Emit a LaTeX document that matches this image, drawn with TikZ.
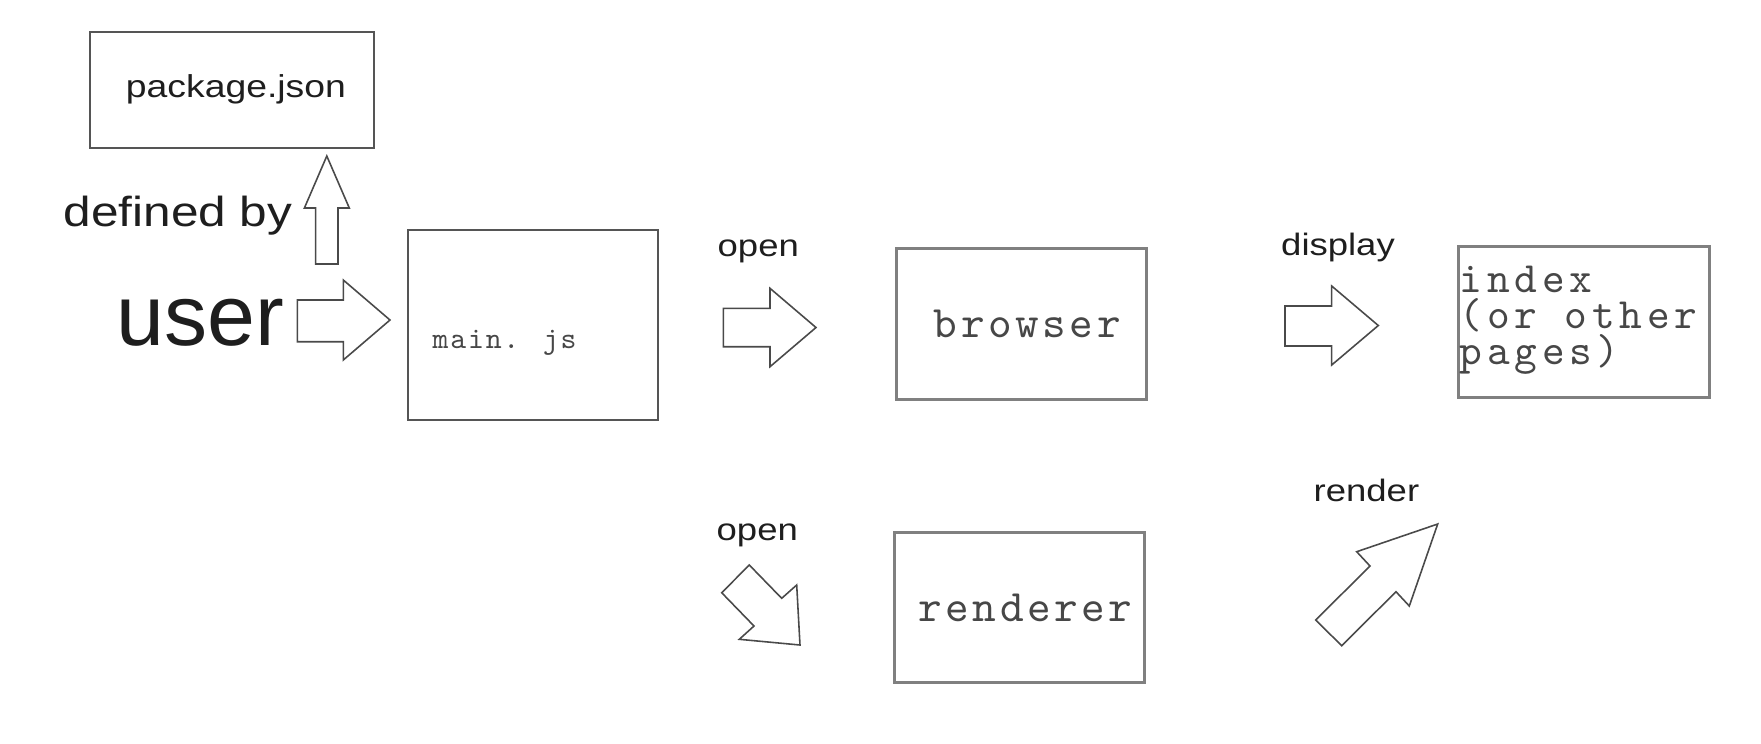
\documentclass[tikz,border=0pt]{standalone}
\usepackage{fontspec}
\newfontfamily\labfont{Liberation Sans}
\newfontfamily\spmono[LetterSpace=8]{lmmono10-regular.otf}
\newfontfamily\spmonowide[LetterSpace=11]{lmmono10-regular.otf}
\newfontfamily\spmonosmall[LetterSpace=6]{lmmono10-regular.otf}
\newcommand{\wlab}[1]{\scalebox{1.18}[1]{#1}}
\definecolor{labelcol}{HTML}{1E1E1E}
\definecolor{monocol}{HTML}{474747}
\definecolor{boxdark}{HTML}{555555}
\definecolor{boxgrey}{HTML}{808080}
\definecolor{arrowgrey}{HTML}{4A4A4A}
\tikzset{
  darkbox/.style={draw=boxdark, line width=0.57pt, inner sep=0pt},
  greybox/.style={draw=boxgrey, line width=0.85pt, inner sep=0pt},
  blockarrow/.style={draw=arrowgrey, line width=0.45pt, line join=miter, fill=white},
  sanslabel/.style={inner sep=0pt, text=labelcol, font=\labfont\fontsize{8.8}{10}\selectfont},
  monotext/.style={inner sep=0pt, text=monocol},
  bigmono/.style={font={\spmono\fontsize{12.8}{15}\selectfont}, text=monocol},
}
\begin{document}
\lineskiplimit=-30pt
\begin{tikzpicture}[x=0.1mm, y=-0.1mm]
\useasboundingbox (0,0) rectangle (1761,743);
\fill[white] (0,0) rectangle (1761,743);

% boxes
\node[darkbox, minimum width=28.42mm, minimum height=11.6mm, text=labelcol,
      font=\labfont\fontsize{9}{10}\selectfont] (pkg) at (231.9,89.5) {\hspace*{0.8mm}\wlab{package.json}};
\node[darkbox, minimum width=25.02mm, minimum height=19mm] (main) at (533.1,325) {};
\node[greybox, minimum width=25.07mm, minimum height=15.07mm, bigmono] (browser) at (1021.35,323.65) {\hspace*{1.2mm}browser};
\node[greybox, minimum width=25.09mm, minimum height=15.15mm] (index) at (1583.95,321.75) {};
\node[greybox, minimum width=25mm, minimum height=15.08mm, bigmono] (renderer) at (1019.5,607.4) {\hspace*{1.2mm}renderer};

% texts
\node[monotext, anchor=base west, font={\spmonosmall\fontsize{8.6}{11}\selectfont}] (mainlbl) at (432,348.3) {main. js};
\node[monotext, anchor=north west, align=left, font={\spmonowide\fontsize{12.3}{10.3}\selectfont}] (idxlbl) at (1459,265.3) {index\\(or other\\pages)};

\node[inner sep=0pt, anchor=base west, text=labelcol, font=\labfont\fontsize{24.5}{28}\selectfont] (user) at (116,345) {user};
\node[inner sep=0pt, anchor=base west, text=labelcol, font=\labfont\fontsize{11.95}{14}\selectfont] (defby) at (63,226.7) {\wlab{defined by}};
\node[sanslabel, anchor=base west] (open1) at (717,256) {\wlab{open}};
\node[sanslabel, anchor=base west] (disp) at (1280.5,255) {\wlab{display}};
\node[sanslabel, anchor=base west] (open2) at (716,540) {\wlab{open}};
\node[sanslabel, anchor=base west] (rend) at (1313,501.7) {\wlab{render}};

% block arrows
\draw[blockarrow] (315.6,264) -- (338,264) -- (338,208) -- (349.3,208) -- (326.8,156) -- (304.4,208) -- (315.6,208) -- cycle;
\draw[blockarrow] (297.3,300) -- (343.3,300) -- (343.3,280) -- (390,320) -- (343.3,360) -- (343.3,341.7) -- (297.3,341.7) -- cycle;
\draw[blockarrow] (723.3,308.3) -- (770,308.3) -- (770,288.3) -- (816,327.5) -- (770,366.7) -- (770,346.7) -- (723.3,346.7) -- cycle;
\draw[blockarrow] (1285,306) -- (1331.7,306) -- (1331.7,286) -- (1378.3,325.5) -- (1331.7,365) -- (1331.7,346) -- (1285,346) -- cycle;
\draw[blockarrow] (721.7,592.7) -- (749.3,565) -- (781.7,598.3) -- (796.7,585) -- (800,645) -- (739.3,639.3) -- (754,626) -- cycle;
\draw[blockarrow] (1437.7,524) -- (1356.7,551.7) -- (1370,566) -- (1315.7,620) -- (1341.7,645.7) -- (1396,591.7) -- (1409.3,606) -- cycle;
\end{tikzpicture}
\end{document}
